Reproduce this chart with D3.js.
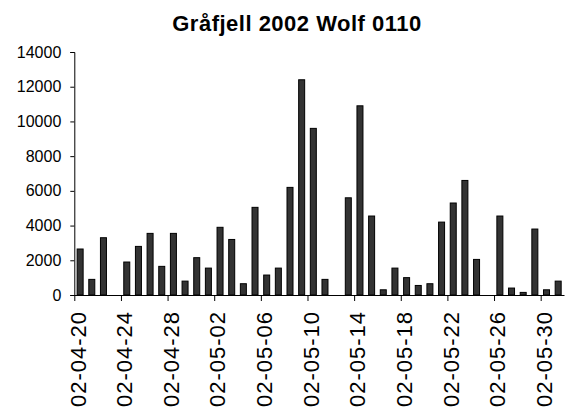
<!DOCTYPE html>
<html>
<head>
<meta charset="utf-8">
<script src="https://cdn.jsdelivr.net/npm/d3@7"></script>
<style>
  html, body { margin: 0; padding: 0; background: #fff; }
  svg { display: block; }
  text { font-family: "Liberation Sans", Arial, sans-serif; fill: #000; }
</style>
</head>
<body>
<svg id="chart" width="571" height="414"></svg>
<script>
const title = "Gråfjell 2002 Wolf 0110";
const categories = [
  "02-04-20","02-04-21","02-04-22","02-04-23","02-04-24","02-04-25","02-04-26","02-04-27",
  "02-04-28","02-04-29","02-04-30","02-05-01","02-05-02","02-05-03","02-05-04","02-05-05",
  "02-05-06","02-05-07","02-05-08","02-05-09","02-05-10","02-05-11","02-05-12","02-05-13",
  "02-05-14","02-05-15","02-05-16","02-05-17","02-05-18","02-05-19","02-05-20","02-05-21",
  "02-05-22","02-05-23","02-05-24","02-05-25","02-05-26","02-05-27","02-05-28","02-05-29",
  "02-05-30","02-05-31"
];
const values = [
  2650, 900, 3300, null, 1900, 2800, 3550, 1650,
  3550, 800, 2150, 1550, 3900, 3200, 650, 5050,
  1150, 1550, 6200, 12400, 9600, 900, null, 5600,
  10900, 4550, 300, 1550, 1000, 550, 650, 4200,
  5300, 6600, 2050, null, 4550, 400, 150, 3800,
  300, 800
];
const xTickLabels = ["02-04-20","02-04-24","02-04-28","02-05-02","02-05-06","02-05-10",
                     "02-05-14","02-05-18","02-05-22","02-05-26","02-05-30"];
const yTicks = [0, 2000, 4000, 6000, 8000, 10000, 12000, 14000];

const parse = d3.timeParse("%y-%m-%d");
const fmt = d3.timeFormat("%y-%m-%d");

const plotLeft = 74.3, plotRight = 564, plotTop = 52, plotBottom = 295;
const svg = d3.select("#chart");

const firstDay = parse(categories[0]);
const endDay = d3.timeDay.offset(parse(categories[categories.length - 1]), 1);

const x = d3.scaleTime().domain([firstDay, endDay]).range([plotLeft, plotRight]);
const y = d3.scaleLinear().domain([0, 14000]).range([plotBottom, plotTop]);

const data = categories.map((c, i) => ({ date: parse(c), value: values[i] }));
const step = x(d3.timeDay.offset(firstDay, 1)) - x(firstDay);
const barW = 6;

// Bars
svg.append("g").selectAll("rect")
  .data(data.filter(d => d.value != null))
  .join("rect")
  .attr("x", d => x(d.date) + step / 2 - barW / 2)
  .attr("y", d => y(d.value))
  .attr("width", barW)
  .attr("height", d => y(0) - y(d.value))
  .attr("fill", "#333333")
  .attr("stroke", "#000")
  .attr("stroke-width", 1);

// Y axis
const yAxis = svg.append("g")
  .attr("transform", `translate(${plotLeft},0)`)
  .call(d3.axisLeft(y).tickValues(yTicks).tickSize(4).tickPadding(9).tickFormat(d3.format("d")));
yAxis.selectAll("text").style("font-size", "16px").attr("font-family", null);
yAxis.selectAll("line,path").attr("stroke", "#000");

// X axis
const xAxis = svg.append("g")
  .attr("transform", `translate(0,${plotBottom})`)
  .call(d3.axisBottom(x).tickValues(xTickLabels.map(parse)).tickSize(6).tickSizeOuter(0).tickFormat(fmt));
xAxis.selectAll("line,path").attr("stroke", "#000");
xAxis.selectAll("text")
  .style("font-size", "22px")
  .style("letter-spacing", "1px")
  .attr("text-anchor", "end")
  .attr("transform", "rotate(-90)")
  .attr("x", -16)
  .attr("y", 3)
  .attr("dy", "0.35em");

// Title
svg.append("text")
  .attr("x", 297)
  .attr("y", 31)
  .attr("text-anchor", "middle")
  .style("font-size", "22px")
  .style("letter-spacing", "0.5px")
  .style("font-weight", "bold")
  .text(title);
</script>
</body>
</html>
